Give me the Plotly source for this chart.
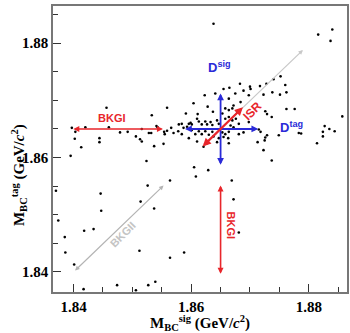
import plotly.graph_objects as go

# ---- scatter data (M_BC^sig, M_BC^tag) in GeV/c^2 ----
m_sig = [
    1.8370, 1.8374, 1.8385, 1.8386, 1.8401, 1.8418, 1.8417, 1.8434, 1.8446, 1.8447,
    1.8474, 1.8506, 1.8512, 1.8514, 1.8526, 1.8537, 1.8527, 1.8539, 1.8564, 1.8564,
    1.8588, 1.8608, 1.8629, 1.8669, 1.8672, 1.8681, 1.8605,
    1.8456, 1.8559, 1.8533, 1.8397, 1.8403, 1.8420, 1.8460, 1.8479, 1.8492, 1.8516,
    1.8528, 1.8532, 1.8541, 1.8543, 1.8554, 1.8555, 1.8402, 1.8444, 1.8444, 1.8506,
    1.8513, 1.8516, 1.8413, 1.8537, 1.8553, 1.8395, 1.8524,
    1.8638, 1.8816, 1.8840, 1.8837, 1.8857,
    1.8683, 1.8665, 1.8700, 1.8701, 1.8717, 1.8728, 1.8740, 1.8752, 1.8760, 1.8723,
    1.8738, 1.8751, 1.8762, 1.8762, 1.8776, 1.8726, 1.8729, 1.8737, 1.8827, 1.8835,
    1.8844, 1.8824, 1.8824, 1.8814, 1.8783, 1.8787, 1.8749, 1.8715, 1.8718, 1.8729,
    1.8726, 1.8725, 1.8713, 1.8723, 1.8737, 1.8641, 1.8604, 1.8628, 1.8623, 1.8591,
    1.8611, 1.8610, 1.8637, 1.8655, 1.8664, 1.8675, 1.8689, 1.8698, 1.8684, 1.8672,
    1.8658, 1.8664, 1.8670, 1.8678, 1.8653, 1.8658, 1.8664, 1.8670, 1.8676, 1.8644,
    1.8647, 1.8681, 1.8667, 1.8672, 1.8698,
    1.8579, 1.8584, 1.8566, 1.8596, 1.8599, 1.8601, 1.8613, 1.8618, 1.8624, 1.8627,
    1.8633, 1.8636, 1.8587, 1.8593, 1.8559, 1.8570, 1.8578, 1.8584, 1.8601, 1.8607,
    1.8613, 1.8618, 1.8624, 1.8630, 1.8636, 1.8638, 1.8596, 1.8610, 1.8627, 1.8621,
    1.8653, 1.8658, 1.8664, 1.8647, 1.8655, 1.8663, 1.8664, 1.8644, 1.8681, 1.8689,
    1.8706,
]
m_tag = [
    1.8542, 1.8490, 1.8461, 1.8434, 1.8413, 1.8472, 1.8370, 1.8475, 1.8537, 1.8507,
    1.8377, 1.8368, 1.8437, 1.8523, 1.8551, 1.8511, 1.8377, 1.8383, 1.8560, 1.8425,
    1.8434, 1.8567, 1.8578, 1.8560, 1.8527, 1.8469, 1.8583,
    1.8687, 1.8687, 1.8674, 1.8652, 1.8645, 1.8653, 1.8653, 1.8644, 1.8645, 1.8650,
    1.8643, 1.8643, 1.8655, 1.8653, 1.8645, 1.8641, 1.8633, 1.8634, 1.8627, 1.8637,
    1.8632, 1.8628, 1.8618, 1.8620, 1.8624, 1.8603, 1.8594,
    1.8834, 1.8815, 1.8824, 1.8804, 1.8672,
    1.8729, 1.8722, 1.8724, 1.8720, 1.8725, 1.8729, 1.8737, 1.8742, 1.8727, 1.8710,
    1.8714, 1.8710, 1.8714, 1.8685, 1.8685, 1.8681, 1.8676, 1.8671, 1.8655, 1.8650,
    1.8646, 1.8645, 1.8637, 1.8625, 1.8643, 1.8642, 1.8639, 1.8649, 1.8645, 1.8639,
    1.8635, 1.8630, 1.8627, 1.8613, 1.8595, 1.8712, 1.8695, 1.8689, 1.8709, 1.8677,
    1.8676, 1.8668, 1.8680, 1.8720, 1.8703, 1.8712, 1.8717, 1.8709, 1.8697, 1.8691,
    1.8686, 1.8683, 1.8686, 1.8680, 1.8677, 1.8668, 1.8671, 1.8665, 1.8668, 1.8665,
    1.8659, 1.8659, 1.8656, 1.8653, 1.8662,
    1.8658, 1.8659, 1.8652, 1.8659, 1.8661, 1.8658, 1.8663, 1.8658, 1.8663, 1.8658,
    1.8662, 1.8657, 1.8652, 1.8654, 1.8647, 1.8643, 1.8646, 1.8641, 1.8648, 1.8641,
    1.8646, 1.8641, 1.8646, 1.8640, 1.8645, 1.8637, 1.8634, 1.8628, 1.8625, 1.8619,
    1.8644, 1.8641, 1.8645, 1.8634, 1.8636, 1.8634, 1.8625, 1.8627, 1.8641, 1.8644,
    1.8649,
]

# ---- axis settings ----
axis_range = [1.8365, 1.8865]
tick_vals = [1.84, 1.86, 1.88]
tick_text = ["<b>1.84</b>", "<b>1.86</b>", "<b>1.88</b>"]

# ---- arrows: (x_head, y_head, x_tail, y_tail, color, width, both_ends) ----
arrows = [
    (1.8552, 1.865, 1.8397, 1.865, "#e8262b", 1.6, True),      # BKGI horizontal
    (1.865, 1.8397, 1.865, 1.8554, "#e8262b", 1.6, True),      # BKGI vertical
    (1.8553, 1.8551, 1.8400, 1.8400, "#b4b4b4", 1.2, True),    # BKGII
    (1.8790, 1.8788, 1.8660, 1.8660, "#c8c8c8", 1.2, False),   # ISR extension
    (1.8714, 1.865, 1.8587, 1.865, "#2a2ad8", 1.8, True),      # Dtag cross
    (1.865, 1.8712, 1.865, 1.8585, "#2a2ad8", 1.8, True),      # Dsig cross
    (1.8688, 1.8688, 1.8617, 1.8617, "#e8262b", 2.2, True),    # ISR
]

# ---- text labels: (x, y, text, color, angle, size) ----
labels = [
    (1.8466, 1.8669, "<b>BKGI</b>", "#e8262b", 0, 11),
    (1.8667, 1.8482, "<b>BKGI</b>", "#e8262b", 90, 11),
    (1.8484, 1.8467, "<b>BKGII</b>", "#c4c4c4", -45, 11),
    (1.8704, 1.8682, "<b>ISR</b>", "#e8262b", -45, 12),
    (1.8648, 1.8759, "<b>D<sup>sig</sup></b>", "#2a2ad8", 0, 13),
    (1.8771, 1.8653, "<b>D<sup>tag</sup></b>", "#2a2ad8", 0, 13),
]

serif = "Liberation Serif, Times New Roman"

fig = go.Figure()
fig.add_trace(go.Scatter(
    x=m_sig, y=m_tag, mode="markers",
    marker=dict(color="black", size=2.6),
    hoverinfo="skip", showlegend=False,
))

for xh, yh, xt, yt, col, w, both in arrows:
    fig.add_annotation(
        x=xh, y=yh, ax=xt, ay=yt, xref="x", yref="y", axref="x", ayref="y",
        showarrow=True, text="", arrowcolor=col, arrowwidth=w,
        arrowhead=2, startarrowhead=2, arrowsize=0.75, startarrowsize=0.75,
        arrowside="end+start" if both else "end",
    )

for x, y, t, col, ang, sz in labels:
    fig.add_annotation(
        x=x, y=y, xref="x", yref="y", text=t, showarrow=False, textangle=ang,
        font=dict(family="Liberation Sans, Arial", size=sz, color=col),
    )

# axis titles as annotations (positioned as in original)
fig.add_annotation(
    x=-0.118, y=0.41, xref="paper", yref="paper", showarrow=False, textangle=-90,
    text="<b>M<sub>BC</sub><sup>tag</sup> (GeV/<i>c</i><sup>2</sup>)</b>",
    font=dict(family=serif, size=15, color="black"),
    xanchor="center", yanchor="middle",
)
fig.add_annotation(
    x=0.5, y=-0.108, xref="paper", yref="paper", showarrow=False,
    text="<b>M<sub>BC</sub><sup>sig</sup> (GeV/<i>c</i><sup>2</sup>)</b>",
    font=dict(family=serif, size=15, color="black"),
    xanchor="center", yanchor="middle",
)

axis_common = dict(
    range=axis_range, tickvals=tick_vals, ticktext=tick_text,
    ticks="inside", ticklen=8, tickwidth=1.2, tickcolor="#333333",
    minor=dict(dtick=0.005, tick0=1.84, ticks="inside", ticklen=5, tickwidth=1.2, tickcolor="#333333"),
    showline=True, linecolor="#777777", linewidth=1.5, mirror=True,
    showgrid=False, zeroline=False, automargin=False,
    tickfont=dict(family=serif, size=15, color="black"),
)

fig.update_xaxes(**axis_common)
fig.update_yaxes(**axis_common)
fig.update_layout(
    width=350, height=333,
    margin=dict(l=53, r=3, t=6, b=41),
    paper_bgcolor="white", plot_bgcolor="white",
)

fig.write_html("out.html")
